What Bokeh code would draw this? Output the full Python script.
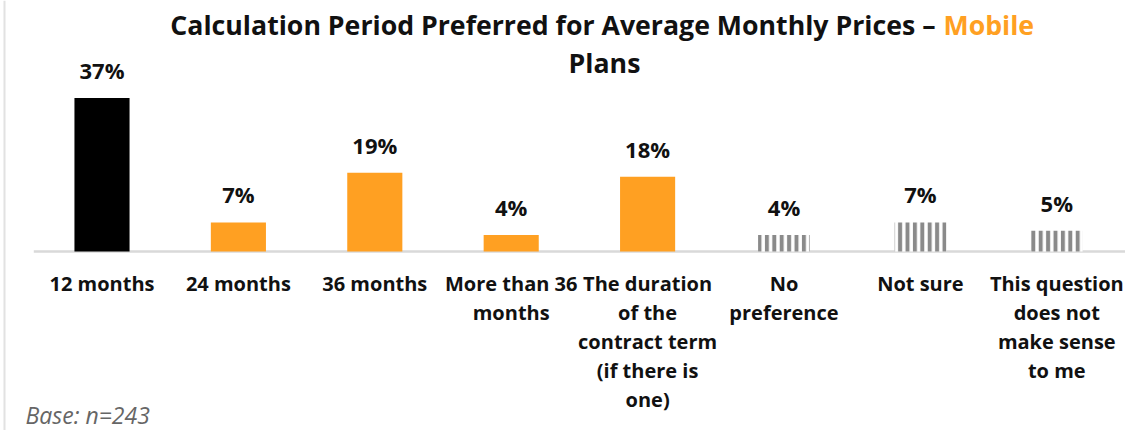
from bokeh.plotting import figure
from bokeh.models import ColumnDataSource, Range1d, Label, LabelSet, Span
from bokeh.core.properties import value
from bokeh.embed import file_html
from bokeh.resources import INLINE

# ---- data ----
categories = ["12 months", "24 months", "36 months", "More than 36 months",
              "The duration of the contract term (if there is one)",
              "No preference", "Not sure", "This question does not make sense to me"]
tick_labels = ["12 months", "24 months", "36 months", "More than 36\nmonths",
               "The duration\nof the\ncontract term\n(if there is\none)",
               "No\npreference", "Not sure", "This question\ndoes not\nmake sense\nto me"]
values = [37, 7, 19, 4, 18, 4, 7, 5]
kinds = ["black", "orange", "orange", "orange", "orange", "striped", "striped", "striped"]

ORANGE = "#FFA022"
TEXT = "#111111"
FONT = value("Open Sans")
color_map = {"black": "#000000", "orange": ORANGE}

pos = list(range(len(categories)))
solid_idx = [i for i, k in enumerate(kinds) if k != "striped"]
striped_idx = [i for i, k in enumerate(kinds) if k == "striped"]

solid = ColumnDataSource(dict(
    x=[pos[i] for i in solid_idx],
    val=[values[i] for i in solid_idx],
    color=[color_map[kinds[i]] for i in solid_idx],
))
striped = ColumnDataSource(dict(
    x=[pos[i] for i in striped_idx],
    val=[values[i] for i in striped_idx],
))
labels_src = ColumnDataSource(dict(
    x=pos, val=values, txt=[f"{v}%" for v in values],
))

# category labels: one row per text line, each line centred
LINE_PX = 29
tx, ty, tt, toff = [], [], [], []
for i, lab in zip(pos, tick_labels):
    for k, line in enumerate(lab.split("\n")):
        tx.append(i)
        ty.append(0)
        tt.append(line)
        toff.append(-18 - LINE_PX * k)
ticks_src = ColumnDataSource(dict(x=tx, y=ty, text=tt, off=toff))

# layout: one category = 136.4 px, 1 % = 4.15 px
W, H = 1125, 430
cat_px, pct_px = 136.4, 4.15
x0 = -101.5 / cat_px
y_top = 251 / pct_px
p = figure(width=W, height=H, output_backend="svg", toolbar_location=None,
           x_range=Range1d(x0, x0 + W / cat_px),
           y_range=Range1d(y_top - H / pct_px, y_top),
           min_border=0)
p.outline_line_color = None
p.background_fill_color = "white"
p.border_fill_color = "white"
p.grid.visible = False
p.xaxis.visible = False
p.yaxis.visible = False

# thin frame line at left edge
p.add_layout(Span(location=x0 + 4 / cat_px, dimension="height",
                  line_color="#e2e2e2", line_width=2))

# category baseline
p.segment(x0=-0.5, x1=len(pos) - 0.5, y0=0, y1=0, line_color="#d9d9d9",
          line_width=2.5)

p.vbar(x="x", top="val", width=0.404, source=solid, fill_color="color",
       line_color=None)
p.vbar(x="x", top="val", width=0.38, source=striped, fill_color="white",
       line_color=None, hatch_pattern="vertical_line", hatch_color="#8a8a8a",
       hatch_weight=4, hatch_scale=7.4)

# value labels
p.add_layout(LabelSet(x="x", y="val", text="txt", source=labels_src,
                      y_offset=28, text_align="center", text_baseline="middle",
                      text_font=FONT, text_font_style="bold",
                      text_font_size="22px", text_color=TEXT))

# category labels
p.add_layout(LabelSet(x="x", y="y", text="text", source=ticks_src,
                      y_offset="off", text_align="center", text_baseline="top",
                      text_font=FONT, text_font_style="bold",
                      text_font_size="20px", text_color=TEXT))

# title (two colours), screen units
title_font = dict(text_font="Open Sans", text_font_style="bold",
                  text_font_size="26.7px", text_baseline="middle",
                  x_units="screen", y_units="screen")
p.add_layout(Label(x=935, y=H - 24, text="Calculation Period Preferred for Average Monthly Prices \u2013",
                   text_align="right", text_color=TEXT, **title_font))
p.add_layout(Label(x=943, y=H - 24, text="Mobile", text_align="left",
                   text_color=ORANGE, **title_font))
p.add_layout(Label(x=604, y=H - 62, text="Plans", text_align="center",
                   text_color=TEXT, **title_font))

p.add_layout(Label(x=25, y=H - 414, text="Base: n=243", text_align="left",
                   text_baseline="middle", x_units="screen", y_units="screen",
                   text_font="Open Sans", text_font_style="italic",
                   text_font_size="23px", text_color="#666666"))

open("out.html", "w").write(file_html(p, INLINE))
